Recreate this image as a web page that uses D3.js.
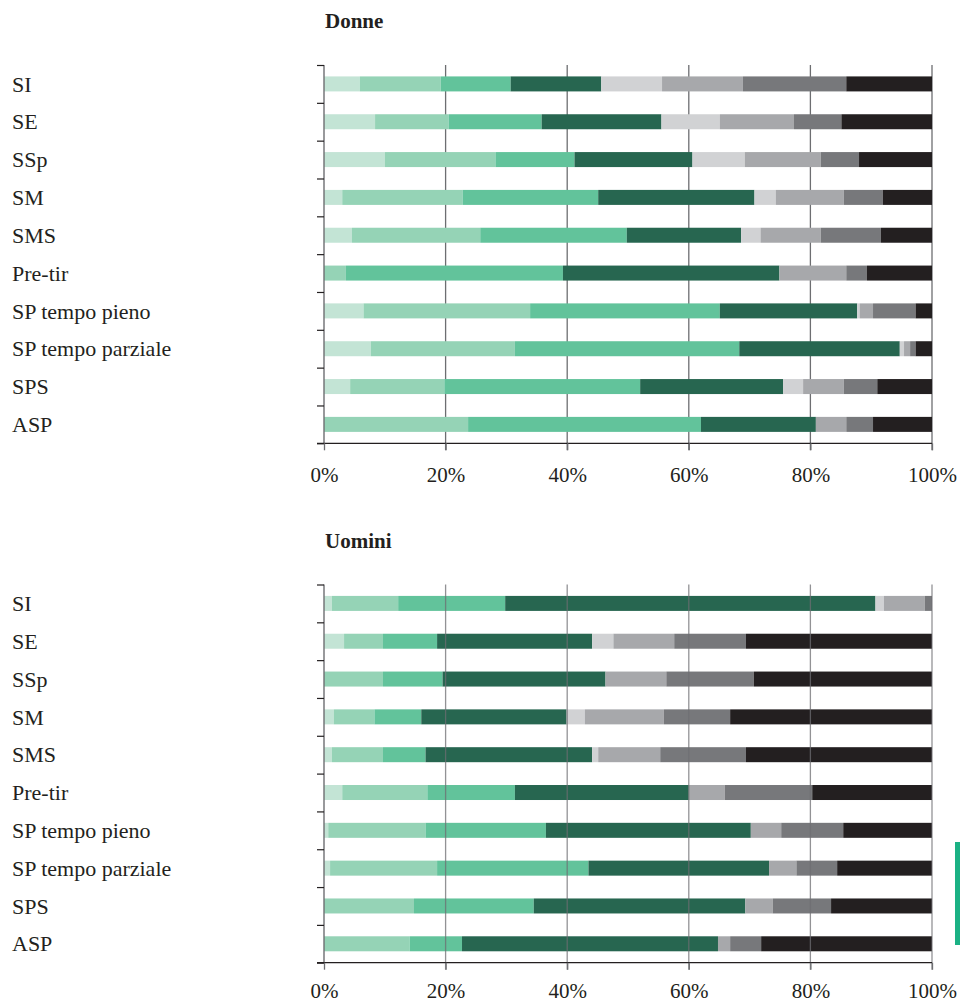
<!DOCTYPE html>
<html>
<head>
<meta charset="utf-8">
<script src="https://cdn.jsdelivr.net/npm/d3@7"></script>
<style>
  html, body { margin: 0; padding: 0; background: #ffffff; }
  svg { display: block; }
</style>
</head>
<body>
<svg id="chart" width="960" height="1003"></svg>
<script>
// ---------- DATA ----------
const categories = ["SI", "SE", "SSp", "SM", "SMS", "Pre-tir", "SP tempo pieno", "SP tempo parziale", "SPS", "ASP"];
const seriesKeys = ["s1", "s2", "s3", "s4", "s5", "s6", "s7", "s8"];
const tickValues = [0, 20, 40, 60, 80, 100];
const panelTitles = ["Donne", "Uomini"];

// Donne (percent per segment, left to right)
const donneS1 = [5.9, 8.4, 10.0, 3.0, 4.6, 0, 6.5, 7.7, 4.3, 0];
const donneS2 = [13.3, 12.1, 18.2, 19.8, 21.1, 3.6, 27.4, 23.7, 15.5, 23.7];
const donneS3 = [11.5, 15.3, 13.0, 22.3, 24.1, 35.7, 31.2, 36.9, 32.2, 38.3];
const donneS4 = [14.9, 19.7, 19.4, 25.7, 18.8, 35.6, 22.6, 26.4, 23.5, 18.9];
const donneS5 = [10.0, 9.6, 8.6, 3.5, 3.2, 0, 0.4, 0.7, 3.3, 0];
const donneS6 = [13.3, 12.2, 12.5, 11.2, 9.9, 11.0, 2.2, 1.0, 6.7, 5.0];
const donneS7 = [17.0, 7.8, 6.3, 6.4, 9.9, 3.4, 7.0, 0.9, 5.5, 4.4];
const donneS8 = [14.1, 14.9, 12.0, 8.1, 8.4, 10.7, 2.7, 2.7, 9.0, 9.7];

// Uomini
const uominiS1 = [1.3, 3.3, 0, 1.6, 1.3, 3.0, 0.7, 1.0, 0, 0];
const uominiS2 = [10.9, 6.4, 9.7, 6.7, 8.4, 14.0, 16.0, 17.6, 14.8, 14.1];
const uominiS3 = [17.6, 8.9, 9.8, 7.7, 7.0, 14.4, 19.8, 24.9, 19.7, 8.6];
const uominiS4 = [60.9, 25.5, 26.8, 23.9, 27.4, 28.6, 33.7, 29.7, 34.8, 42.1];
const uominiS5 = [1.4, 3.5, 0, 3.0, 1.0, 0, 0, 0, 0, 0];
const uominiS6 = [6.7, 10.0, 10.0, 13.0, 10.2, 5.9, 5.0, 4.5, 4.5, 2.0];
const uominiS7 = [1.2, 11.8, 14.4, 10.9, 14.1, 14.4, 10.2, 6.7, 9.6, 5.1];
const uominiS8 = [0, 30.6, 29.3, 33.2, 30.6, 19.7, 14.6, 15.6, 16.6, 28.1];

const colors = ["#c3e4d5", "#95d3b6", "#62c39b", "#276650", "#d1d2d4", "#a7a8ab", "#77787b", "#231f20"];

// ---------- BUILD ----------
function buildRows(seriesArrays) {
  return categories.map((c, i) => {
    const row = { cat: c };
    seriesKeys.forEach((k, j) => { row[k] = seriesArrays[j][i]; });
    return row;
  });
}
const panels = [
  { title: panelTitles[0], rows: buildRows([donneS1, donneS2, donneS3, donneS4, donneS5, donneS6, donneS7, donneS8]),
    top: 65, bottom: 443.3, titleY: 28, gridOnTop: false, labelOff: 38.4 },
  { title: panelTitles[1], rows: buildRows([uominiS1, uominiS2, uominiS3, uominiS4, uominiS5, uominiS6, uominiS7, uominiS8]),
    top: 584.5, bottom: 962.7, titleY: 548, gridOnTop: true, labelOff: 35.5 }
];

const svg = d3.select("#chart");
const FONT = "'Liberation Serif', 'Times New Roman', serif";
const x = d3.scaleLinear().domain([0, 100]).range([324, 932]);
const color = d3.scaleOrdinal().domain(seriesKeys).range(colors);
const stack = d3.stack().keys(seriesKeys);
const barH = 15;

panels.forEach(p => {
  const g = svg.append("g");
  const y = d3.scaleBand().domain(categories).range([p.top, p.bottom]).padding(0);
  const yLin = d3.scaleLinear().domain([0, categories.length]).range([p.top, p.bottom]);

  // title
  g.append("text")
    .attr("x", 325).attr("y", p.titleY)
    .attr("font-family", FONT).attr("font-weight", "bold").attr("font-size", 21)
    .attr("fill", "#231f20")
    .text(p.title);

  const drawGrid = () => {
    g.append("g").selectAll("line")
      .data(tickValues.filter(d => d > 0))
      .join("line")
      .attr("x1", d => x(d)).attr("x2", d => x(d))
      .attr("y1", p.top).attr("y2", p.bottom + 7)
      .attr("stroke", "#6d6e71")
      .attr("stroke-opacity", p.gridOnTop ? 0.75 : 1)
      .attr("stroke-width", 1.3);
  };

  if (!p.gridOnTop) drawGrid();

  // bars
  const stacked = stack(p.rows);
  g.append("g").selectAll("g")
    .data(stacked)
    .join("g")
    .attr("fill", d => color(d.key))
    .selectAll("rect")
    .data(d => d)
    .join("rect")
    .attr("x", d => x(d[0]))
    .attr("width", d => Math.max(0, x(d[1]) - x(d[0])))
    .attr("y", d => y(d.data.cat) + (y.bandwidth() - barH) / 2)
    .attr("height", barH);

  if (p.gridOnTop) drawGrid();

  // left axis (ticks at band boundaries)
  const yAxis = d3.axisLeft(yLin)
    .tickValues(d3.range(0, categories.length + 1))
    .tickSize(7)
    .tickFormat("");
  const ya = g.append("g").attr("transform", "translate(324,0)").call(yAxis);
  ya.select(".domain").attr("stroke", "#6d6e71").attr("stroke-width", 1.4)
    .attr("d", `M0,${p.top}V${p.bottom}`);
  ya.selectAll(".tick line").attr("stroke", "#231f20").attr("stroke-width", 1.2);

  // bottom axis
  const xAxis = d3.axisBottom(x).tickValues(tickValues).tickSize(7).tickFormat(d => d + "%");
  const xa = g.append("g").attr("transform", `translate(0,${p.bottom})`).call(xAxis);
  xa.select(".domain").attr("stroke", "#231f20").attr("stroke-width", 1.3)
    .attr("d", `M${x(0) - 7},0H${x(100)}`);
  xa.selectAll(".tick line").attr("stroke", "#6d6e71").attr("stroke-width", 1.3);
  xa.selectAll(".tick text")
    .attr("y", p.labelOff).attr("dy", 0)
    .attr("font-family", FONT).attr("font-size", 21).attr("fill", "#231f20");

  // category labels
  g.append("g").selectAll("text")
    .data(categories)
    .join("text")
    .attr("x", 12)
    .attr("y", d => y(d) + y.bandwidth() / 2)
    .attr("dy", "0.35em")
    .attr("font-family", FONT).attr("font-size", 22).attr("fill", "#231f20")
    .text(d => d);
});

// green side marker
svg.append("rect").attr("x", 955).attr("y", 842).attr("width", 5).attr("height", 103).attr("fill", "#1bb184");
</script>
</body>
</html>
